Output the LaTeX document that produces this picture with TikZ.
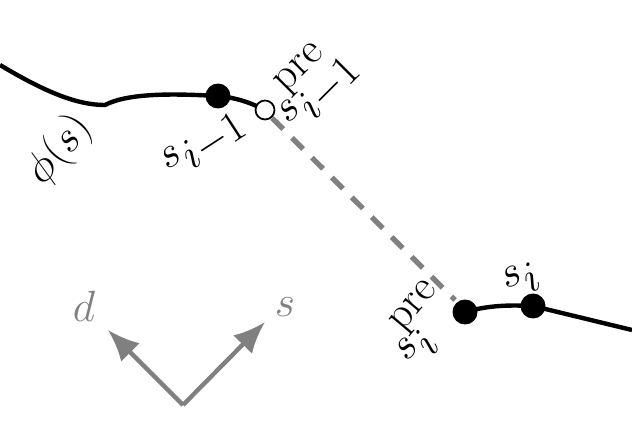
\documentclass[tikz,border=0pt]{standalone}
\usetikzlibrary{arrows.meta}
\begin{document}
\begin{tikzpicture}[x=0.02cm,y=-0.02cm,
  dotb/.style={circle,fill=black,inner sep=0pt,minimum size=0.5cm},
  doto/.style={circle,draw=black,fill=white,line width=1pt,inner sep=0pt,minimum size=0.38cm},
  lab/.style={font=\fontsize{36}{40}\selectfont,inner sep=0pt},
  ax/.style={gray,line width=2.5pt,-{Latex[length=18pt,width=15pt]}}]
\useasboundingbox (0,0) rectangle (632,422);
\draw[line width=2.5pt] (0,65) .. controls (50,95) and (80,105) .. (105,105) .. controls (130,92) and (180,94) .. (218,96) .. controls (240,98) and (255,105) .. (265,110);
\node[dotb] (a) at (218,96) {};
\node[doto] (b) at (265,110) {};
\draw[line width=2.5pt] (465,312) .. controls (490,305) and (510,305) .. (533,306) -- (632,330);
\node[dotb] (c) at (465,312) {};
\node[dotb] (d) at (533,306) {};
\draw[gray,line width=3pt,dash pattern=on 9pt off 7pt] (272,118) -- (455,300);
\coordinate (o) at (183,405);
\coordinate (dd) at (108,330);
\coordinate (ss) at (265,322);
\draw[ax] (o) -- (dd);
\draw[ax] (o) -- (ss);
\node[lab,gray] at (84,306) {$d$};
\node[lab,gray] at (285,307) {$s$};
\node[font=\fontsize{46}{50}\selectfont,rotate=50,inner sep=0pt] at (60,150) {$\phi(s)$};
\node[lab,rotate=33] at (205,145) {$s_{i-1}$};
\node[lab,rotate=45] at (312,85) {$s^{\mathrm{pre}}_{i-1}$};
\node[lab,rotate=25] at (522,280) {$s_i$};
\node[lab,rotate=50] at (422,325) {$s^{\mathrm{pre}}_i$};
\end{tikzpicture}
\end{document}
